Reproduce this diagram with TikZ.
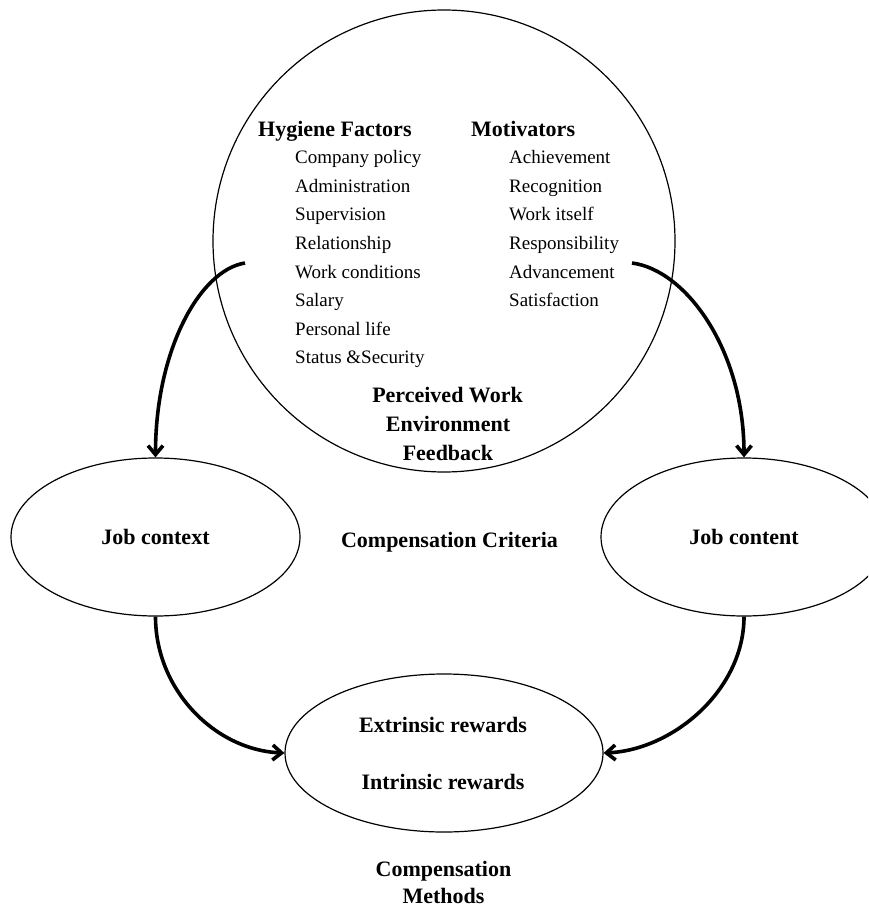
\documentclass[tikz,border=0pt]{standalone}
\usepackage{fontspec}
\setmainfont{Liberation Serif}
\usetikzlibrary{shapes.geometric,arrows.meta}
\begin{document}
\begin{tikzpicture}[x=1pt,y=-1pt,
  hd/.style={font=\fontsize{22}{26}\selectfont\bfseries, inner sep=0pt},
  itm/.style={font=\fontsize{19}{23}\selectfont, inner sep=0pt, anchor=base west},
  oval/.style={draw, ellipse, line width=1.2pt, inner sep=0pt, font=\fontsize{22}{26}\selectfont\bfseries},
  conn/.style={line width=3.6pt, -{Straight Barb[length=9pt,width=15pt]}}]
\useasboundingbox (0,0) rectangle (868,909);
\clip (0,0) rectangle (868,909);

% big circle
\node[draw, circle, minimum size=462pt, line width=1.2pt, inner sep=0pt] (env) at (444,241) {};

% headings
\node[hd, anchor=base west] (hyg) at (258,137) {Hygiene Factors};
\node[hd, anchor=base west] (mot) at (471,137) {Motivators};

% hygiene items
\node[itm] (h1) at (295,164) {Company policy};
\node[itm] (h2) at (295,192.5) {Administration};
\node[itm] (h3) at (295,221) {Supervision};
\node[itm] (h4) at (295,249.5) {Relationship};
\node[itm] (h5) at (295,278) {Work conditions};
\node[itm] (h6) at (295,306.5) {Salary};
\node[itm] (h7) at (295,335) {Personal life};
\node[itm] (h8) at (295,363.5) {Status \&Security};

% motivator items
\node[itm] (m1) at (509,164) {Achievement};
\node[itm] (m2) at (509,192.5) {Recognition};
\node[itm] (m3) at (509,221) {Work itself};
\node[itm] (m4) at (509,249.5) {Responsibility};
\node[itm] (m5) at (509,278) {Advancement};
\node[itm] (m6) at (509,306.5) {Satisfaction};

% perceived work environment feedback
\node[hd, anchor=base] (p1) at (447.5,402) {Perceived Work};
\node[hd, anchor=base] (p2) at (448,431) {Environment};
\node[hd, anchor=base] (p3) at (448,460) {Feedback};

% ellipses
\node[oval, minimum width=289pt, minimum height=158pt] (jc) at (155.5,537) {Job context};
\node[oval, minimum width=286pt, minimum height=158pt] (jn) at (744,537) {Job content};
\node[oval, minimum width=318pt, minimum height=158pt] (rw) at (444,753) {};

\node[hd, anchor=base] (cc) at (449.5,547) {Compensation Criteria};
\node[hd, anchor=base] (r1) at (443,732) {Extrinsic rewards};
\node[hd, anchor=base] (r2) at (443,789) {Intrinsic rewards};
\node[hd, anchor=base] (cm1) at (443.5,876) {Compensation};
\node[hd, anchor=base] (cm2) at (443.5,903) {Methods};

% connectors
\coordinate (a1) at (245,263);
\coordinate (a2) at (632,263);
\draw[conn] (a1) .. controls (200,270) and (155.5,350) .. (jc.north);
\draw[conn] (a2) .. controls (686,270) and (744,350) .. (jn.north);
\draw[conn] (jc.south) .. controls (155.5,690) and (215,750) .. (rw.west);
\draw[conn] (jn.south) .. controls (744,690) and (673,750) .. (rw.east);
\end{tikzpicture}
\end{document}
